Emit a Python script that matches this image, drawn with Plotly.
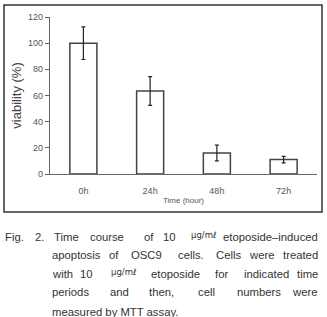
import plotly.graph_objects as go

categories = ["0h", "24h", "48h", "72h"]
viability = [100, 63.5, 16, 11]
errors = [12.5, 11, 6, 2.5]
y_ticks = [0, 20, 40, 60, 80, 100, 120]

W, H = 327, 317
L, R, T, B = 50, 10, 17, 143
PW, PH = W - L - R, H - T - B

def px(x):
    return (x - L) / PW

def py(y):
    return (H - B - y) / PH

fig = go.Figure()
fig.add_trace(go.Bar(
    x=categories, y=viability,
    marker=dict(color="white", line=dict(color="#444", width=1.5)),
    error_y=dict(type="data", array=errors, color="#222", thickness=1.2, width=2),
    showlegend=False,
))

fig.update_layout(
    width=W, height=H,
    margin=dict(l=L, r=R, t=T, b=B, autoexpand=False),
    paper_bgcolor="white", plot_bgcolor="white",
    bargap=0.595,
    font=dict(family="Liberation Sans, Arial, sans-serif", color="#555"),
    xaxis=dict(
        range=[-0.5, 3.5], showline=True, linecolor="#666", linewidth=1.2,
        ticks="outside", ticklen=8, tickcolor="rgba(0,0,0,0)",
        tickfont=dict(size=9, color="#555"), showgrid=False, zeroline=False,
        title=dict(text="Time (hour)", font=dict(size=8, color="#555"), standoff=2),
    ),
    yaxis=dict(
        range=[0, 120], tickvals=y_ticks, showline=True, linecolor="#666", linewidth=1.2,
        ticks="outside", ticklen=4, tickcolor="#666",
        tickfont=dict(size=9, color="#555"), showgrid=False, zeroline=False,
        title=dict(text="viability (%)", font=dict(size=13, color="#444"), standoff=3),
    ),
)

# outer frame around the chart
fig.add_shape(type="rect", xref="paper", yref="paper",
              x0=px(4), x1=px(322), y0=py(212), y1=py(5),
              line=dict(color="#333", width=1.5))

cap_font = dict(family="Liberation Sans, Arial", size=11.3, color="#333")
unit_font = dict(family="DejaVu Sans, Liberation Sans, Arial", size=8.5, color="#333")

caption_lines = [
    (236.5, [("Fig.", 3), ("2.", 33), ("Time", 52), ("course", 88), ("of", 142), ("10", 161),
             ("μg/mℓ", 189), ("etoposide–induced", None)]),
    (255, [("apoptosis", 50), ("of", 107), ("OSC9", 129), ("cells.", 176), ("Cells", 214),
           ("were", 247), ("treated", None)]),
    (273.5, [("with", 50), ("10", 78), ("μg/mℓ", 109), ("etoposide", 149), ("for", 213),
             ("indicated", 242), ("time", None)]),
    (292, [("periods", 50), ("and", 108), ("then,", 147), ("cell", 196), ("numbers", 235),
           ("were", None)]),
    (311.5, [("measured by MTT assay.", 50)]),
]

for ypix, words in caption_lines:
    for word, xl in words:
        unit = word == "μg/mℓ"
        if xl is None:
            x, anchor = px(320), "right"
        else:
            x, anchor = px(xl), "left"
        fig.add_annotation(
            text=word, xref="paper", yref="paper", x=x, y=py(ypix - (2 if unit else 0)),
            xanchor=anchor, yanchor="middle", showarrow=False,
            font=unit_font if unit else cap_font,
        )

fig.write_html("out.html")
